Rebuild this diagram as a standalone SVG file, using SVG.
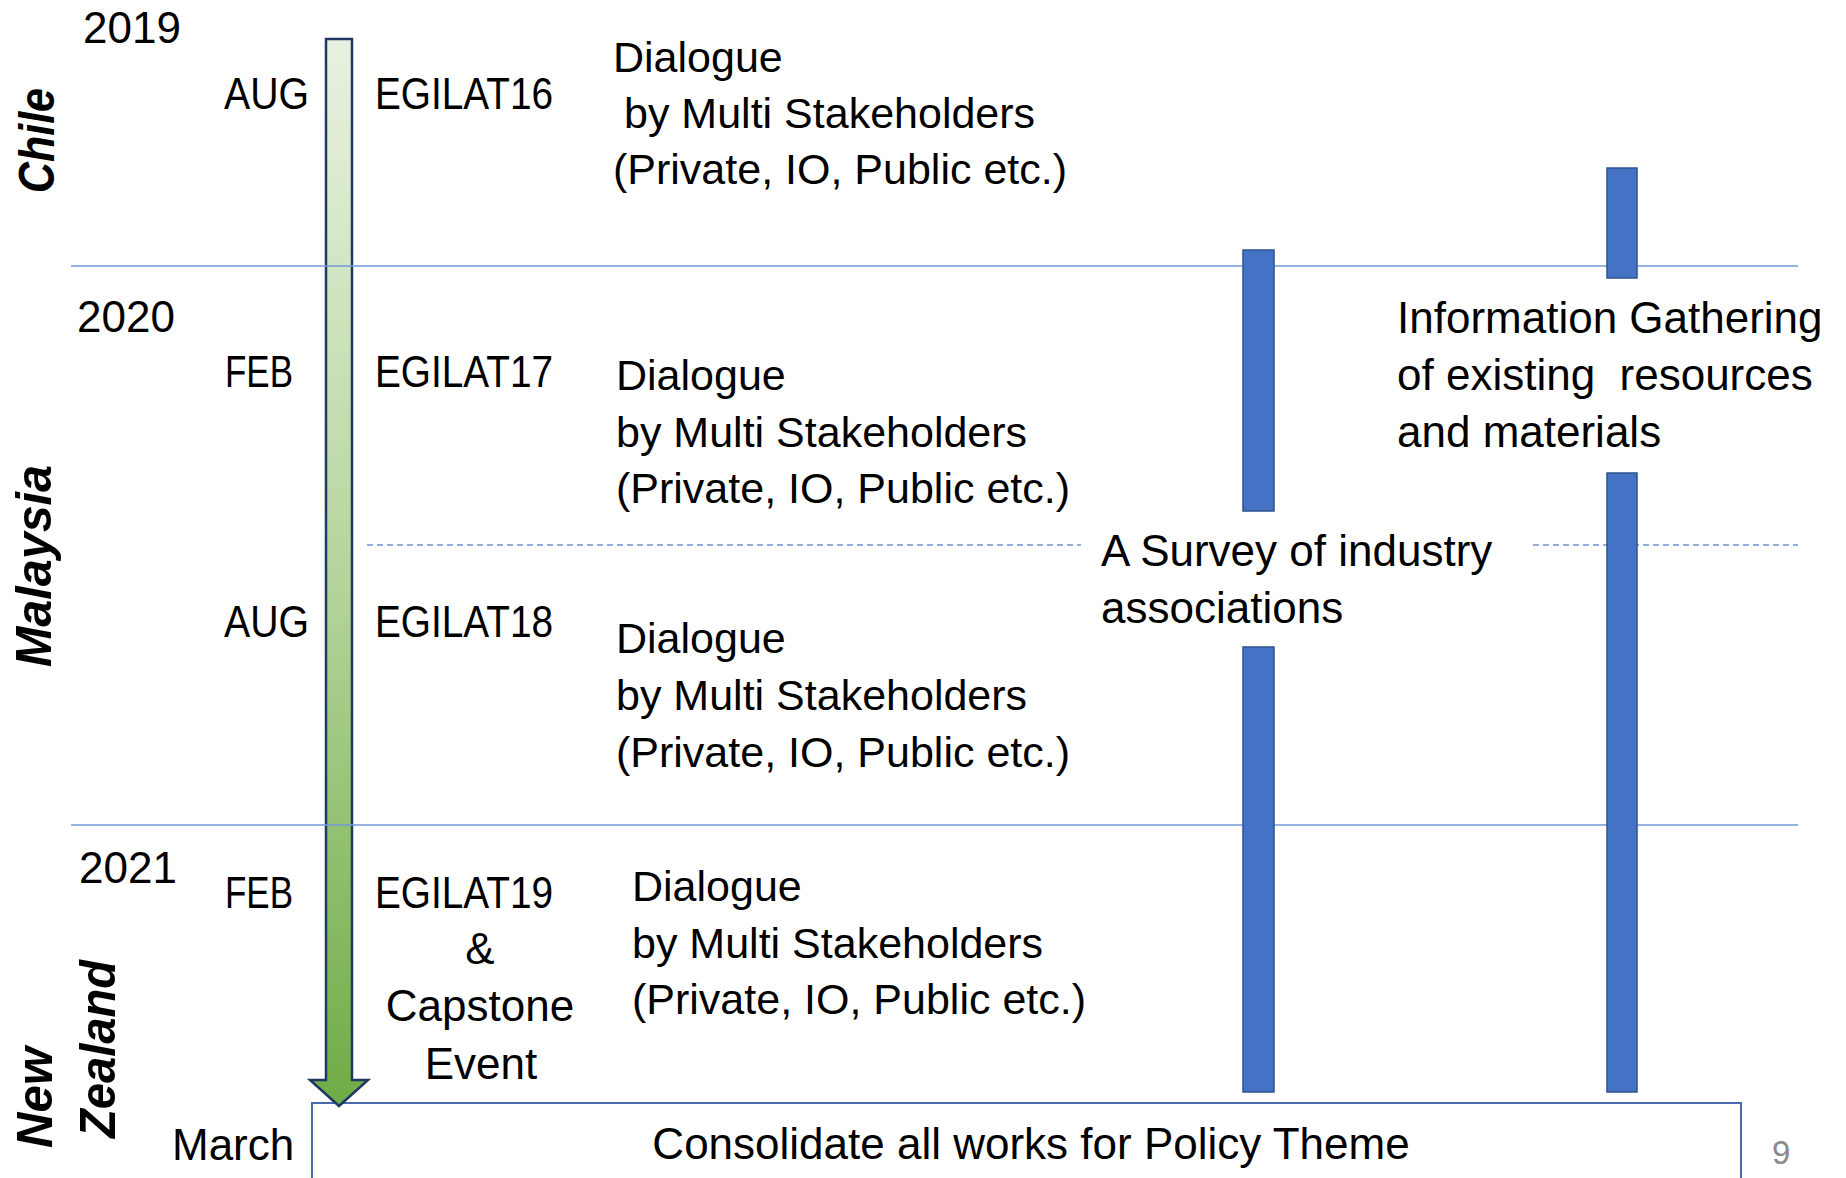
<svg xmlns="http://www.w3.org/2000/svg" width="1846" height="1178" viewBox="0 0 1846 1178">
  <style>
    .t { font-family: "Liberation Sans", Arial, sans-serif; font-size: 44px; fill: #000; }
    .d { font-size: 43px; }
    .c { text-anchor: middle; }
    .country { font-family: "Liberation Sans", Arial, sans-serif; font-size: 50px; font-weight: bold; font-style: italic; fill: #000; }
    .sep { stroke: #7398D8; stroke-width: 1.6; fill: none; }
    .dash { stroke: #6F93D2; stroke-width: 1.4; stroke-dasharray: 6 4; fill: none; }
    .bar { fill: #4472C4; stroke: #2F528F; stroke-width: 1.5; }
    .pg { font-family: "Liberation Sans", Arial, sans-serif; font-size: 33px; fill: #898989; }
  </style>
  <defs>
    <linearGradient id="greenGrad" x1="0" y1="0" x2="0" y2="1">
      <stop offset="0" stop-color="#E9F2E1"/>
      <stop offset="0.5" stop-color="#B5D59C"/>
      <stop offset="1" stop-color="#6FAC46"/>
    </linearGradient>
  </defs>
  <rect x="0" y="0" width="1846" height="1178" fill="#FFFFFF"/>

  <g id="consolidate-box">
    <rect x="312" y="1103" width="1429" height="110" fill="#FFFFFF" stroke="#4A6AAE" stroke-width="2"/>
    <text class="t c" x="1031" y="1159">Consolidate all works for Policy Theme</text>
  </g>

  <g id="timeline-arrow">
    <path d="M326,39 H352 V1080 H368 L339,1106 L310,1080 H326 Z" fill="url(#greenGrad)" stroke="#1F3864" stroke-width="2.5" stroke-linejoin="miter"/>
  </g>

  <g id="connectors">
    <line class="sep" x1="71" y1="266" x2="1798" y2="266"/>
    <line class="sep" x1="71" y1="825" x2="1798" y2="825"/>
    <line class="dash" x1="367" y1="545" x2="1081" y2="545"/>
    <line class="dash" x1="1533" y1="545" x2="1798" y2="545"/>
  </g>

  <g id="survey-bar">
    <rect class="bar" x="1243" y="250" width="31" height="261"/>
    <rect class="bar" x="1243" y="647" width="31" height="445"/>
  </g>
  <g id="info-bar">
    <rect class="bar" x="1607" y="168" width="30" height="110"/>
    <rect class="bar" x="1607" y="473" width="30" height="619"/>
  </g>

  <g id="country-chile">
    <text class="country" transform="translate(54,193) rotate(-90)" textLength="105" lengthAdjust="spacingAndGlyphs">Chile</text>
  </g>
  <g id="country-malaysia">
    <text class="country" transform="translate(51,667) rotate(-90)" textLength="202" lengthAdjust="spacingAndGlyphs">Malaysia</text>
  </g>
  <g id="country-newzealand">
    <text class="country" transform="translate(52,1148) rotate(-90)" textLength="101" lengthAdjust="spacingAndGlyphs">New</text>
    <text class="country" transform="translate(115,1138) rotate(-90)" textLength="178" lengthAdjust="spacingAndGlyphs">Zealand</text>
  </g>

  <g id="years">
    <text class="t" x="83" y="43">2019</text>
    <text class="t" x="77" y="332">2020</text>
    <text class="t" x="79" y="883">2021</text>
  </g>

  <g id="months">
    <text class="t" x="224" y="109" textLength="85" lengthAdjust="spacingAndGlyphs">AUG</text>
    <text class="t" x="225" y="387" textLength="68" lengthAdjust="spacingAndGlyphs">FEB</text>
    <text class="t" x="224" y="637" textLength="85" lengthAdjust="spacingAndGlyphs">AUG</text>
    <text class="t" x="225" y="908" textLength="68" lengthAdjust="spacingAndGlyphs">FEB</text>
    <text class="t" x="172" y="1160">March</text>
  </g>

  <g id="egilat16">
    <text class="t" x="375" y="109" textLength="178" lengthAdjust="spacingAndGlyphs">EGILAT16</text>
  </g>
  <g id="egilat17">
    <text class="t" x="375" y="387" textLength="178" lengthAdjust="spacingAndGlyphs">EGILAT17</text>
  </g>
  <g id="egilat18">
    <text class="t" x="375" y="637" textLength="178" lengthAdjust="spacingAndGlyphs">EGILAT18</text>
  </g>
  <g id="egilat19">
    <text class="t" x="375" y="908" textLength="178" lengthAdjust="spacingAndGlyphs">EGILAT19</text>
    <text class="t c" x="480" y="964">&amp;</text>
    <text class="t c" x="480" y="1021">Capstone</text>
    <text class="t c" x="481" y="1079">Event</text>
  </g>

  <g id="dialogue-1">
    <text class="t d" x="613" y="72">Dialogue</text>
    <text class="t d" x="624" y="128">by Multi Stakeholders</text>
    <text class="t d" x="613" y="184">(Private, IO, Public etc.)</text>
  </g>
  <g id="dialogue-2">
    <text class="t d" x="616" y="390">Dialogue</text>
    <text class="t d" x="616" y="447">by Multi Stakeholders</text>
    <text class="t d" x="616" y="503">(Private, IO, Public etc.)</text>
  </g>
  <g id="dialogue-3">
    <text class="t d" x="616" y="653">Dialogue</text>
    <text class="t d" x="616" y="710">by Multi Stakeholders</text>
    <text class="t d" x="616" y="767">(Private, IO, Public etc.)</text>
  </g>
  <g id="dialogue-4">
    <text class="t d" x="632" y="901">Dialogue</text>
    <text class="t d" x="632" y="958">by Multi Stakeholders</text>
    <text class="t d" x="632" y="1014">(Private, IO, Public etc.)</text>
  </g>

  <g id="survey-label">
    <text class="t" x="1101" y="566">A Survey of industry</text>
    <text class="t" x="1101" y="623">associations</text>
  </g>
  <g id="info-label">
    <text class="t" x="1397" y="333">Information Gathering</text>
    <text class="t" x="1397" y="390" xml:space="preserve">of existing  resources</text>
    <text class="t" x="1397" y="447">and materials</text>
  </g>

  <g id="page-number">
    <text class="pg" x="1772" y="1164">9</text>
  </g>
</svg>
